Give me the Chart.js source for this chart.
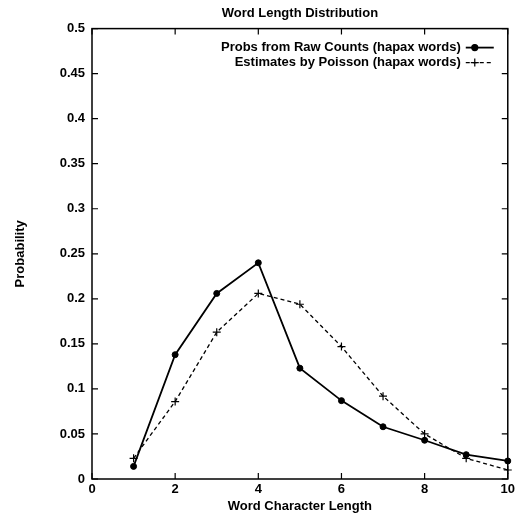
<!DOCTYPE html>
<html>
<head>
<meta charset="utf-8">
<script src="https://cdn.jsdelivr.net/npm/chart.js@4.4.0/dist/chart.umd.min.js"></script>
<style>
  html, body { margin: 0; padding: 0; background: #fff; }
  #wrap { width: 518px; height: 521px; }
</style>
</head>
<body>
<div id="wrap"><canvas id="chart"></canvas></div>
<script>
// data
const lengths = [1, 2, 3, 4, 5, 6, 7, 8, 9, 10];
const rawProbs = [0.014, 0.138, 0.206, 0.240, 0.123, 0.087, 0.058, 0.043, 0.027, 0.020];
const poissonProbs = [0.023, 0.086, 0.163, 0.206, 0.194, 0.147, 0.092, 0.050, 0.023, 0.010];
const xTicks = [0, 2, 4, 6, 8, 10];
const yTicks = [0, 0.05, 0.1, 0.15, 0.2, 0.25, 0.3, 0.35, 0.4, 0.45, 0.5];

const seriesNames = ["Probs from Raw Counts (hapax words)", "Estimates by Poisson (hapax words)"];

Chart.defaults.font.family = "'Liberation Sans', Arial, sans-serif";
Chart.defaults.font.size = 13;
Chart.defaults.font.weight = "bold";
Chart.defaults.color = "#000";

// frame, inward ticks on all four sides, and the in-plot legend
const gnuplotFrame = {
  id: "gnuplotFrame",
  afterDatasetsDraw(chart) {
    const { ctx, chartArea: a, scales: { x, y } } = chart;
    ctx.save();
    ctx.strokeStyle = "#000";
    ctx.lineWidth = 1.5;
    ctx.strokeRect(a.left, a.top, a.right - a.left, a.bottom - a.top);

    ctx.lineWidth = 1.2;
    ctx.beginPath();
    xTicks.forEach(v => {
      const px = x.getPixelForValue(v);
      ctx.moveTo(px, a.bottom); ctx.lineTo(px, a.bottom - 6);
      ctx.moveTo(px, a.top); ctx.lineTo(px, a.top + 6);
    });
    yTicks.forEach(v => {
      const py = y.getPixelForValue(v);
      ctx.moveTo(a.left, py); ctx.lineTo(a.left + 6, py);
      ctx.moveTo(a.right, py); ctx.lineTo(a.right - 6, py);
    });
    ctx.stroke();

    // legend
    ctx.font = "bold 13px 'Liberation Sans', Arial, sans-serif";
    ctx.fillStyle = "#000";
    ctx.textAlign = "right";
    ctx.textBaseline = "middle";
    chart.data.datasets.forEach((ds, i) => {
      const ly = a.top + 19 + i * 15;
      ctx.fillText(ds.label, a.right - 47, ly);
      ctx.save();
      ctx.lineWidth = ds.borderWidth;
      ctx.setLineDash(ds.borderDash || []);
      ctx.beginPath();
      ctx.moveTo(a.right - 42, ly);
      ctx.lineTo(a.right - 14, ly);
      ctx.stroke();
      ctx.restore();
      Chart.helpers.drawPoint(ctx, {
        pointStyle: ds.pointStyle, radius: ds.pointRadius, rotation: 0, borderWidth: 1.2
      }, a.right - 33, ly);
    });
    ctx.restore();
  }
};

new Chart(document.getElementById("chart"), {
  type: "line",
  data: {
    datasets: [
      {
        label: seriesNames[0],
        data: lengths.map((l, i) => ({ x: l, y: rawProbs[i] })),
        borderColor: "#000",
        backgroundColor: "#000",
        borderWidth: 1.8,
        pointStyle: "circle",
        pointRadius: 3,
        pointBorderWidth: 1,
        clip: 8
      },
      {
        label: seriesNames[1],
        data: lengths.map((l, i) => ({ x: l, y: poissonProbs[i] })),
        borderColor: "#000",
        backgroundColor: "#000",
        borderWidth: 1.3,
        borderDash: [4, 3],
        pointStyle: "cross",
        pointRadius: 4,
        pointBorderWidth: 1.2,
        clip: 8
      }
    ]
  },
  options: {
    responsive: true,
    maintainAspectRatio: false,
    animation: false,
    layout: { padding: { left: 0, right: 7, top: 0, bottom: 0 } },
    plugins: {
      legend: { display: false },
      tooltip: { enabled: false },
      title: {
        display: true,
        text: "Word Length Distribution",
        fullSize: false,
        font: { size: 13, weight: "bold" },
        padding: { top: 6, bottom: 7 }
      }
    },
    scales: {
      x: {
        type: "linear",
        min: 0,
        max: 10,
        afterBuildTicks: s => { s.ticks = xTicks.map(v => ({ value: v })); },
        afterFit: s => { s.height = 42; },
        grid: { display: false, drawTicks: false },
        border: { display: false },
        ticks: { padding: 3, font: { size: 13 } },
        title: { display: true, text: "Word Character Length", font: { size: 13 }, padding: { top: 0, bottom: 7 } }
      },
      y: {
        type: "linear",
        min: 0,
        max: 0.5,
        afterBuildTicks: s => { s.ticks = yTicks.map(v => ({ value: v })); },
        afterFit: s => { s.width = 92; },
        grid: { display: false, drawTicks: false },
        border: { display: false },
        ticks: { padding: 7, font: { size: 13 }, callback: v => String(+v.toFixed(2)) },
        title: { display: true, text: "Probability", font: { size: 13 }, padding: { top: 13, bottom: 0 } }
      }
    }
  },
  plugins: [gnuplotFrame]
});
</script>
</body>
</html>
